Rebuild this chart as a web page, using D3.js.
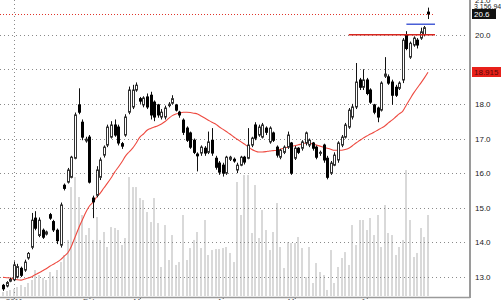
<!DOCTYPE html>
<html>
<head>
<meta charset="utf-8">
<script src="https://cdn.jsdelivr.net/npm/d3@7"></script>
<style>
body { margin: 0; background: #fff; }
svg { display: block; font-family: "Liberation Sans", Arial, sans-serif; }
</style>
</head>
<body>
<svg id="chart" width="501" height="300"></svg>
<script>
// daily prices
const opens = [
    12.76, 12.74, 12.88, 12.92, 13.00, 13.25, 13.20, 13.55, 13.86, 14.70,
    14.20, 14.35, 14.24, 14.80, 14.60, 14.35, 13.92, 15.65, 15.74, 15.88,
    16.43, 17.97, 17.47, 16.93, 17.04, 15.28, 15.36, 15.88, 16.52, 16.81,
    17.04, 17.39, 17.33, 16.85, 17.10, 17.76, 17.91, 18.40, 18.15, 17.97,
    18.20, 18.25, 18.05, 17.97, 17.62, 17.62, 17.95, 18.02, 17.97, 17.76,
    17.53, 17.30, 17.16, 16.95, 16.55, 16.58, 16.72, 16.60, 16.95, 16.43,
    16.29, 16.23, 16.00, 16.40, 16.40, 16.09, 16.23, 16.46, 16.43, 16.81,
    17.39, 17.10, 17.04, 17.30, 16.90, 17.16, 16.75, 16.46, 16.60, 16.75,
    16.87, 16.43, 16.72, 16.72, 16.87, 16.81, 16.87, 16.75, 16.58, 16.81,
    16.43, 16.00, 16.23, 16.38, 16.81, 17.04, 17.33, 17.62, 17.91, 18.69,
    18.48, 18.69, 18.40, 17.97, 17.88, 17.82, 18.80, 18.78, 18.63, 18.48,
    18.45, 18.69, 19.99, 19.35, 19.70, 19.84, 19.90, 20.00, 20.65
]
const highs = [
    12.80, 12.88, 12.98, 13.45, 13.38, 13.30, 13.50, 13.72, 14.85, 14.90,
    14.72, 14.40, 14.34, 14.85, 14.65, 14.40, 15.15, 15.70, 16.15, 16.50,
    17.75, 18.45, 17.55, 17.05, 17.10, 15.35, 16.20, 16.45, 16.80, 17.40,
    17.50, 17.55, 17.40, 16.90, 17.70, 18.50, 18.55, 18.62, 18.20, 18.22,
    18.30, 18.35, 18.10, 18.00, 17.85, 17.95, 18.05, 18.25, 18.00, 17.80,
    17.58, 17.35, 17.20, 17.00, 16.60, 16.80, 16.78, 17.20, 17.30, 16.50,
    16.35, 16.30, 16.50, 16.50, 16.45, 16.30, 16.50, 16.50, 17.30, 17.05,
    17.47, 17.40, 17.45, 17.35, 17.35, 17.20, 16.80, 16.70, 16.80, 17.20,
    16.90, 16.78, 16.75, 16.95, 17.20, 17.00, 16.90, 16.80, 16.65, 16.85,
    16.50, 16.35, 16.60, 16.92, 17.10, 17.45, 17.88, 18.00, 19.18, 18.75,
    19.00, 18.75, 18.45, 18.00, 17.92, 18.65, 19.35, 18.85, 18.70, 18.55,
    18.65, 19.90, 20.10, 19.80, 19.95, 19.90, 20.20, 20.25, 20.78
]
const lows = [
    12.60, 12.70, 12.85, 12.88, 12.96, 13.00, 13.15, 13.50, 13.80, 14.35,
    14.15, 14.10, 14.20, 14.65, 14.30, 13.95, 13.85, 15.50, 15.70, 15.85,
    16.40, 17.70, 16.95, 16.88, 15.70, 14.70, 15.30, 15.80, 16.45, 16.75,
    17.00, 17.05, 16.80, 16.70, 17.05, 17.70, 17.85, 18.35, 18.00, 17.90,
    17.85, 17.55, 17.50, 17.60, 17.55, 17.55, 17.90, 17.98, 17.78, 17.60,
    17.10, 16.90, 16.70, 16.55, 16.05, 16.50, 16.50, 16.55, 16.50, 16.10,
    15.95, 15.90, 15.95, 16.35, 16.30, 16.00, 16.20, 16.25, 16.40, 16.75,
    16.95, 17.05, 17.00, 17.10, 16.85, 16.90, 16.45, 16.40, 16.55, 16.70,
    15.95, 16.38, 16.55, 16.65, 16.80, 16.75, 16.65, 16.40, 16.50, 16.30,
    15.82, 15.95, 16.20, 16.30, 16.75, 17.00, 17.28, 17.55, 17.85, 18.40,
    18.40, 18.25, 18.00, 17.70, 17.47, 17.78, 18.75, 18.55, 17.97, 18.20,
    18.40, 18.60, 19.55, 19.30, 19.65, 19.60, 19.85, 19.95, 20.45
]
const closes = [
    12.66, 12.84, 12.93, 13.35, 13.30, 13.05, 13.43, 13.68, 14.64, 14.41,
    14.64, 14.15, 14.30, 14.70, 14.36, 14.05, 15.08, 15.56, 16.09, 16.46,
    17.68, 17.76, 17.04, 16.98, 15.74, 15.17, 16.09, 16.38, 16.75, 17.33,
    17.39, 17.10, 16.87, 16.78, 17.62, 18.40, 18.40, 18.54, 18.08, 18.17,
    17.91, 17.68, 17.62, 17.68, 17.76, 17.88, 17.99, 18.15, 17.82, 17.68,
    17.18, 16.95, 16.75, 16.60, 16.50, 16.75, 16.58, 16.90, 16.58, 16.17,
    16.03, 16.00, 16.46, 16.46, 16.35, 16.23, 16.46, 16.32, 16.81, 17.01,
    17.01, 17.33, 17.39, 17.18, 17.30, 16.95, 16.52, 16.66, 16.75, 17.10,
    16.00, 16.72, 16.60, 16.90, 17.16, 16.95, 16.72, 16.46, 16.60, 16.38,
    15.88, 16.29, 16.52, 16.87, 17.04, 17.39, 17.82, 17.91, 18.63, 18.48,
    18.69, 18.30, 18.05, 17.76, 17.62, 18.60, 18.86, 18.60, 18.25, 18.25,
    18.60, 19.84, 19.60, 19.75, 19.90, 19.70, 20.08, 20.20, 20.60
]
// volume in thousands of shares
const volumes = [
    44, 55, 66, 76, 98, 120, 98, 142, 175, 284,
    229, 197, 175, 262, 218, 284, 371, 448, 612, 1190,
    1299, 1081, 885, 666, 743, 612, 863, 612, 699, 535,
    753, 743, 721, 557, 633, 1299, 1190, 1190, 1070, 1048,
    917, 808, 1070, 797, 317, 775, 393, 666, 339, 371,
    885, 393, 524, 612, 699, 524, 830, 448, 502, 513,
    513, 524, 535, 470, 371, 1245, 885, 1321, 1321, 688,
    1212, 633, 939, 721, 502, 699, 1016, 535, 306, 590,
    579, 579, 644, 524, 207, 535, 142, 360, 262, 229,
    66, 502, 142, 317, 415, 480, 339, 775, 557, 830,
    830, 721, 852, 666, 885, 535, 994, 688, 666, 448,
    535, 612, 1376, 830, 426, 470, 743, 644, 885
]
// moving average (red line)
const maValues = [
    12.99, 12.98, 12.97, 12.94, 12.92, 12.91, 12.94, 12.97, 13.01, 13.07,
    13.12, 13.18, 13.24, 13.31, 13.37, 13.43, 13.50, 13.60, 13.70, 13.89,
    14.15, 14.41, 14.64, 14.87, 15.05, 15.16, 15.31, 15.42, 15.57, 15.71,
    15.86, 16.03, 16.17, 16.32, 16.49, 16.61, 16.72, 16.87, 17.04, 17.13,
    17.24, 17.29, 17.33, 17.37, 17.42, 17.49, 17.58, 17.66, 17.71, 17.73,
    17.76, 17.76, 17.75, 17.73, 17.71, 17.65, 17.59, 17.53, 17.47, 17.42,
    17.34, 17.27, 17.20, 17.13, 17.05, 16.98, 16.91, 16.84, 16.77, 16.69,
    16.64, 16.61, 16.61, 16.62, 16.64, 16.65, 16.66, 16.69, 16.72, 16.75,
    16.78, 16.79, 16.82, 16.84, 16.87, 16.87, 16.84, 16.81, 16.78, 16.75,
    16.72, 16.69, 16.66, 16.66, 16.66, 16.68, 16.72, 16.79, 16.87, 16.94,
    17.01, 17.07, 17.13, 17.18, 17.24, 17.30, 17.36, 17.45, 17.53, 17.62,
    17.71, 17.79, 17.97, 18.14, 18.31, 18.46, 18.60, 18.75, 18.915
]

const yTicks = [13, 14, 15, 16, 17, 18, 19, 20, 21]
const xTickIdx = [3, 24, 38, 61, 81, 101]
const xTickLabels = ["2011", "Feb", "Mar", "Apr", "May", "Jun"]
const volumeTop = 3156946
const redLevel = { price: 20.0, from: 96 }
const blueLevel = { price: 20.3, from: 112 }

const svg = d3.select("#chart")
const plotRight = 470
const volBase = 296

const x = d3.scaleLinear().domain([0, closes.length - 1]).range([3, 428])
const y = d3.scaleLinear().domain([13, 21]).range([277, 0])
const v = d3.scaleLinear().domain([0, volumeTop / 1000]).range([volBase, 7])

const idx = d3.range(closes.length)
const cx = i => Math.round(x(i))

// volume bars
svg.append("g")
    .selectAll("rect")
    .data(idx)
    .join("rect")
    .attr("x", i => cx(i) - 1)
    .attr("width", 2)
    .attr("y", i => v(volumes[i]))
    .attr("height", i => volBase - v(volumes[i]))
    .attr("fill", "#d9d9d9")

// dotted grid
svg.append("g")
    .selectAll("line")
    .data(yTicks.filter(t => t < 21))
    .join("line")
    .attr("x1", 0)
    .attr("x2", plotRight - 2)
    .attr("y1", t => Math.round(y(t)) + 0.5)
    .attr("y2", t => Math.round(y(t)) + 0.5)
    .attr("stroke", "#8a8a8a")
    .attr("stroke-dasharray", "1,3")

svg.append("line")
    .attr("x1", cx(xTickIdx[0]) + 0.5)
    .attr("x2", cx(xTickIdx[0]) + 0.5)
    .attr("y1", 0)
    .attr("y2", volBase)
    .attr("stroke", "#8a8a8a")
    .attr("stroke-dasharray", "1,3")

// last close, red dotted
const lastClose = closes[closes.length - 1]
svg.append("line")
    .attr("x1", 0)
    .attr("x2", cx(closes.length - 1) + 6)
    .attr("y1", Math.round(y(lastClose)) + 0.5)
    .attr("y2", Math.round(y(lastClose)) + 0.5)
    .attr("stroke", "#e0352b")
    .attr("stroke-dasharray", "1,2")

// moving average
const maLine = d3.line()
    .x(i => x(i))
    .y(i => y(maValues[i]))
    .curve(d3.curveMonotoneX)

svg.append("path")
    .datum(idx)
    .attr("d", maLine)
    .attr("fill", "none")
    .attr("stroke", "#ee4a40")
    .attr("stroke-width", 1.1)

// candles
const candles = svg.append("g")

candles.selectAll("line")
    .data(idx)
    .join("line")
    .attr("x1", i => cx(i) + 0.5)
    .attr("x2", i => cx(i) + 0.5)
    .attr("y1", i => y(highs[i]))
    .attr("y2", i => y(lows[i]))
    .attr("stroke", "#111")

candles.selectAll("rect")
    .data(idx)
    .join("rect")
    .attr("x", i => cx(i) - 0.5)
    .attr("width", 2)
    .attr("y", i => y(Math.max(opens[i], closes[i])))
    .attr("height", i => Math.max(1, Math.abs(y(opens[i]) - y(closes[i]))))
    .attr("fill", i => closes[i] >= opens[i] ? "#fff" : "#000")
    .attr("stroke", i => closes[i] >= opens[i] ? "#333" : "#000")

// support / resistance marks near the end
const lvlEnd = cx(closes.length - 1) + 7
svg.append("line")
    .attr("x1", x(redLevel.from))
    .attr("x2", lvlEnd)
    .attr("y1", y(redLevel.price))
    .attr("y2", y(redLevel.price))
    .attr("stroke", "#d8261f")
    .attr("stroke-width", 1.5)

svg.append("line")
    .attr("x1", x(blueLevel.from))
    .attr("x2", lvlEnd)
    .attr("y1", y(blueLevel.price))
    .attr("y2", y(blueLevel.price))
    .attr("stroke", "#4a5fd6")
    .attr("stroke-width", 1.5)

// axes
const yAxis = d3.axisRight(y)
    .tickValues(yTicks)
    .tickSize(0)
    .tickPadding(5)
    .tickFormat(d3.format(".1f"))

svg.append("g")
    .attr("transform", `translate(${plotRight},0)`)
    .call(yAxis)
    .call(g => g.select(".domain").remove())
    .call(g => g.selectAll("text").attr("fill", "#222").style("font-size", "8px"))

const xAxis = d3.axisBottom(x)
    .tickValues(xTickIdx)
    .tickFormat((d, i) => xTickLabels[i])
    .tickSize(2)

svg.append("g")
    .attr("transform", `translate(0,${volBase + 1})`)
    .call(xAxis)
    .call(g => g.select(".domain").remove())
    .call(g => g.selectAll("line").attr("stroke", "#555"))
    .call(g => g.selectAll("text").attr("y", 1).attr("fill", "#555").style("font-size", "8px"))

svg.append("line")
    .attr("x1", 0).attr("x2", plotRight)
    .attr("y1", volBase + 1.5).attr("y2", volBase + 1.5)
    .attr("stroke", "#9a9a9a")
    .attr("stroke-width", 1.5)

svg.append("line")
    .attr("x1", plotRight).attr("x2", plotRight)
    .attr("y1", 0).attr("y2", volBase + 2)
    .attr("stroke", "#9a9a9a")
    .attr("stroke-width", 2)

// value tags on the right
svg.append("text")
    .attr("x", 474)
    .attr("y", 8.5)
    .attr("fill", "#222")
    .style("font-size", "7px")
    .text(d3.format(",")(volumeTop))

function tag(value, fmt, bg, fg, w) {
    const cy = Math.round(y(value))
    svg.append("rect")
        .attr("x", 472)
        .attr("y", cy - 5)
        .attr("width", w)
        .attr("height", 10)
        .attr("fill", bg)
    svg.append("text")
        .attr("x", 474)
        .attr("y", cy + 3)
        .attr("fill", fg)
        .style("font-size", "8px")
        .text(d3.format(fmt)(value))
}

tag(lastClose, ".1f", "#111", "#fff", 24)
tag(maValues[maValues.length - 1], ".3f", "#e8201a", "#5a0a08", 29)
</script>
</body>
</html>
